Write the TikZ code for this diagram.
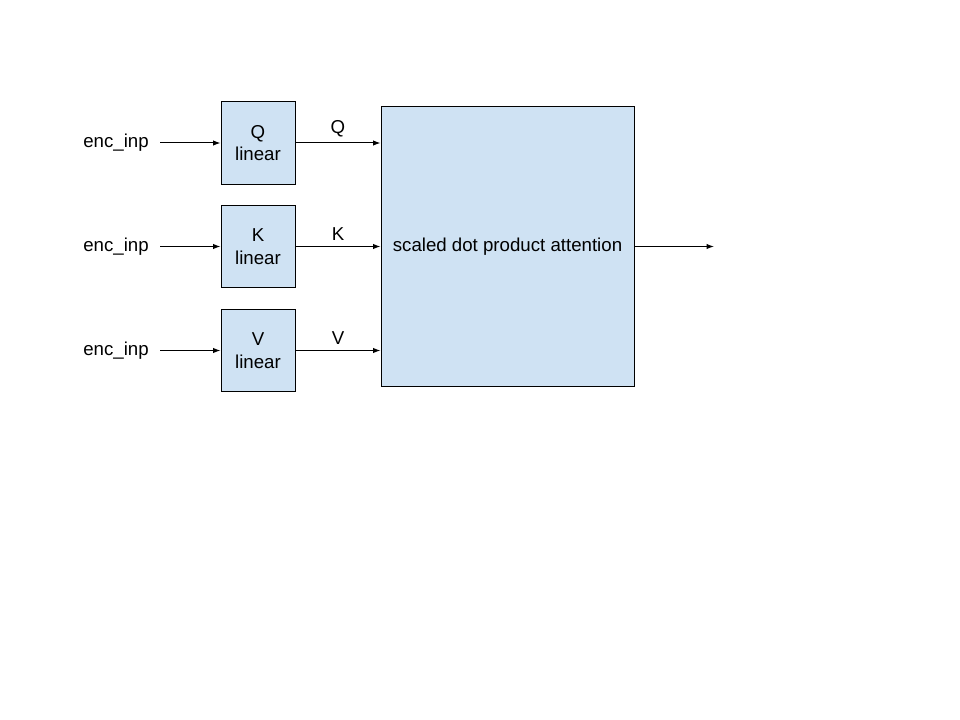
\documentclass[tikz,border=0pt]{standalone}
\usepackage{fontspec}
\setmainfont{Liberation Sans}
\usetikzlibrary{arrows.meta}
\definecolor{boxblue}{HTML}{CFE2F3}

\begin{document}
\begin{tikzpicture}[x=0.75pt, y=-0.75pt, every node/.style={font=\fontsize{14}{17}\selectfont}]

\tikzset{
    linbox/.style={draw, fill=boxblue, line width=0.75pt, align=center, minimum width=55.5pt, minimum height=62pt},
    attbox/.style={draw, fill=boxblue, line width=0.75pt, minimum width=189.75pt, minimum height=209.25pt},
    arr/.style={-{Latex[length=5.5pt, width=4pt]}, line width=0.75pt}
}

\useasboundingbox (0,0) rectangle (960,720);

\node[attbox] (att) at (507.5,246.5) {scaled dot product attention};

\foreach \n/\y in {Q/143, K/246.5, V/350.5} {
    \node[linbox] (lin\n) at (258,\y) {\n\\linear};
    \node (in\n) at (116,\y) {enc\_inp};
    \draw[arr, shorten <=5pt] (in\n) -- (lin\n);
}

\draw[arr] (linQ) -- (linQ -| att.west) node[midway, above=0.5pt] (labQ) {Q};
\draw[arr] (linK) -- (linK -| att.west) node[midway, above=0.5pt] (labK) {K};
\draw[arr] (linV) -- (linV -| att.west) node[midway, above=0.5pt] (labV) {V};

\coordinate (out) at (714,246.5);
\draw[arr] (att) -- (out);

\end{tikzpicture}
\end{document}
